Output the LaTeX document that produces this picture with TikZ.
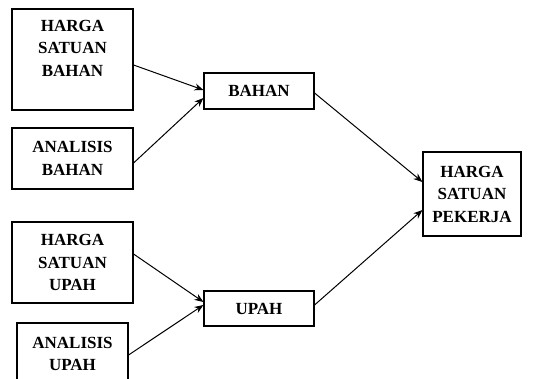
\documentclass[tikz,border=0pt]{standalone}
\usepackage{fontspec}
\setmainfont{Liberation Serif}
\usetikzlibrary{arrows.meta}
\begin{document}
\begin{tikzpicture}[x=1pt,y=-1pt,
  box/.style={draw, line width=1.1pt, inner sep=0pt, align=center,
    font=\fontsize{17}{22.5}\selectfont\bfseries},
  arr/.style={-{Stealth[length=9pt,width=7pt]}, line width=1pt}]
\useasboundingbox (0,0) rectangle (558,379);
\clip (0,0) rectangle (558,379);
\node[box, minimum width=121pt, minimum height=101pt] (b1) at (72.5,59.5) {HARGA\\SATUAN\\BAHAN\\~};
\node[box, minimum width=121pt, minimum height=61pt] (b2) at (72.5,158.5) {ANALISIS\\BAHAN};
\node[box, minimum width=121pt, minimum height=81pt] (b3) at (72.5,262.5) {HARGA\\SATUAN\\UPAH};
\node[box, minimum width=111pt, minimum height=62pt] (b4) at (72.5,354) {ANALISIS\\UPAH};
\node[box, minimum width=110pt, minimum height=36pt] (bahan) at (259,91) {BAHAN};
\node[box, minimum width=110pt, minimum height=35pt] (upah) at (259,308.5) {UPAH};
\node[box, minimum width=98pt, minimum height=84pt] (hsp) at (472,194) {HARGA\\SATUAN\\PEKERJA};
\draw[arr] ([yshift=-5.5pt]b1.east) -- ([yshift=1pt]bahan.west);
\draw[arr] ([yshift=-4.5pt]b2.east) -- ([yshift=-7pt]bahan.west);
\draw[arr] ([yshift=-2pt]bahan.east) -- ([yshift=12pt]hsp.west);
\draw[arr] ([yshift=8.5pt]b3.east) -- ([yshift=6.5pt]upah.west);
\draw[arr] ([yshift=-1pt]b4.east) -- ([yshift=3.5pt]upah.west);
\draw[arr] ([yshift=3.5pt]upah.east) -- ([yshift=-16pt]hsp.west);
\end{tikzpicture}
\end{document}
